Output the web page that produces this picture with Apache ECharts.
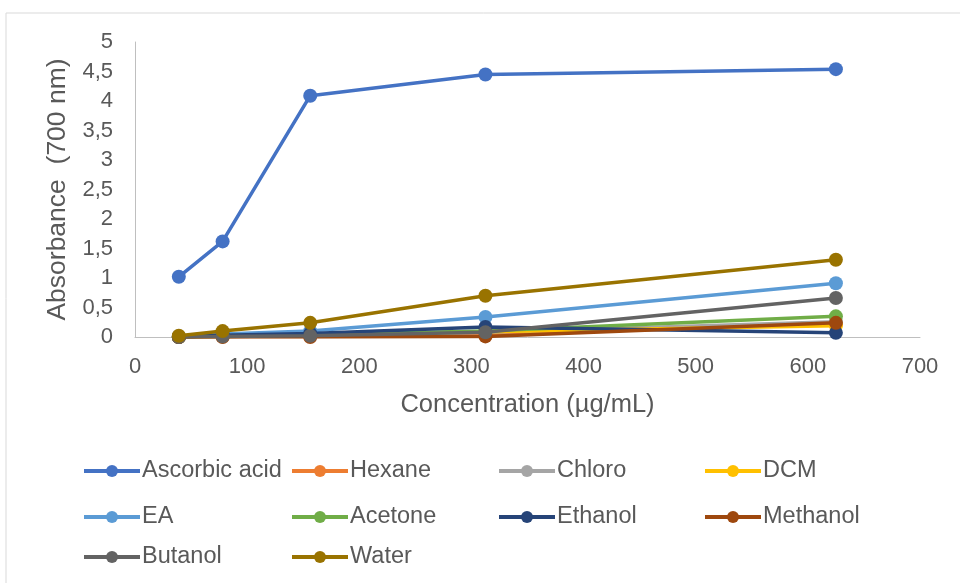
<!DOCTYPE html>
<html>
<head>
<meta charset="utf-8">
<script src="https://cdn.jsdelivr.net/npm/echarts@6/dist/echarts.min.js"></script>
<style>
  html, body { margin: 0; padding: 0; background: #fff; }
  #chart { width: 960px; height: 583px; }
</style>
</head>
<body>
<div id="chart"></div>
<script>
// Concentrations (µg/mL)
const concentrations = [39.0625, 78.125, 156.25, 312.5, 625];

// Absorbance at 700 nm for each extract
const ascorbicAcid = [1.02, 1.62, 4.09, 4.45, 4.54];
const hexane      = [0.00, 0.01, 0.02, 0.05, 0.22];
const chloro      = [0.00, 0.02, 0.03, 0.08, 0.26];
const dcm         = [0.00, 0.01, 0.03, 0.09, 0.19];
const ea          = [0.01, 0.05, 0.10, 0.34, 0.91];
const acetone     = [0.00, 0.02, 0.04, 0.10, 0.35];
const ethanol     = [0.00, 0.03, 0.06, 0.17, 0.07];
const methanol    = [0.00, 0.00, 0.00, 0.01, 0.24];
const butanol     = [0.00, 0.01, 0.02, 0.08, 0.66];
const water       = [0.02, 0.10, 0.24, 0.70, 1.31];

const seriesNames = ['Ascorbic acid', 'Hexane', 'Chloro', 'DCM', 'EA', 'Acetone', 'Ethanol', 'Methanol', 'Butanol', 'Water'];
const seriesValues = [ascorbicAcid, hexane, chloro, dcm, ea, acetone, ethanol, methanol, butanol, water];
const seriesColors = ['#4472C4', '#ED7D31', '#A5A5A5', '#FFC000', '#5B9BD5', '#70AD47', '#264478', '#9E480E', '#636363', '#997300'];

const yTicks = [0, 0.5, 1, 1.5, 2, 2.5, 3, 3.5, 4, 4.5, 5];

const font = '"Liberation Sans", Arial, sans-serif';
const textColor = '#595959';

// Legend laid out as a 4-column grid
const legendCols = [82, 290, 497, 703];
const legendRows = [459, 505, 545];
const legends = seriesNames.map((name, i) => ({
  data: [name],
  left: legendCols[i % 4],
  top: legendRows[Math.floor(i / 4)],
  itemWidth: 56,
  itemHeight: 15,
  itemGap: 0,
  padding: 0,
  lineStyle: { width: 4 },
  textStyle: { fontFamily: font, fontSize: 23.5, color: textColor, padding: [0, 0, 0, -3] }
}));

const chart = echarts.init(document.getElementById('chart'), null, { renderer: 'canvas' });
chart.setOption({
  backgroundColor: '#fff',
  animation: false,
  graphic: [{
    type: 'rect',
    shape: { x: 6, y: 13, width: 1000, height: 600 },
    style: { fill: 'none', stroke: '#D9D9D9', lineWidth: 1 },
    silent: true
  }],
  legend: legends,
  grid: { left: 135, right: 40, top: 42, bottom: 246, containLabel: false },
  xAxis: {
    type: 'value',
    min: 0, max: 700, interval: 100,
    name: 'Concentration (µg/mL)',
    nameLocation: 'middle',
    nameGap: 55,
    nameTextStyle: { fontFamily: font, fontSize: 25.5, color: textColor },
    axisLine: { show: true, lineStyle: { color: '#BFBFBF', width: 1 } },
    axisTick: { show: false },
    splitLine: { show: false },
    axisLabel: { fontFamily: font, fontSize: 22, color: textColor, margin: 19 }
  },
  yAxis: {
    type: 'value',
    min: 0, max: 5, interval: 0.5,
    name: 'Absorbance  (700 nm)',
    nameLocation: 'middle',
    nameGap: 63,
    nameTextStyle: { fontFamily: font, fontSize: 26.5, color: textColor },
    axisLine: { show: true, lineStyle: { color: '#BFBFBF', width: 1 } },
    axisTick: { show: false },
    splitLine: { show: false },
    axisLabel: {
      fontFamily: font, fontSize: 22, color: textColor, margin: 22,
      formatter: v => yTicks.includes(v) ? String(v).replace('.', ',') : ''
    }
  },
  series: seriesNames.map((name, i) => ({
    name,
    type: 'line',
    data: concentrations.map((c, j) => [c, seriesValues[i][j]]),
    color: seriesColors[i],
    symbol: 'circle',
    symbolSize: 14,
    lineStyle: { width: 3.5, color: seriesColors[i] },
    itemStyle: { color: seriesColors[i] },
    z: 2 + i
  }))
});
</script>
</body>
</html>
